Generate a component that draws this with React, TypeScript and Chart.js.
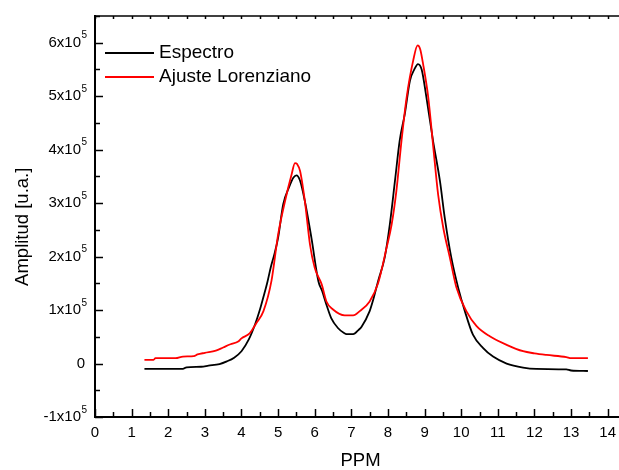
import React, { useEffect, useRef } from "react";
import { Chart, registerables } from "chart.js";

Chart.register(...registerables);

// ---- Data ----
const espectroPPM = [
  1.35, 2.0, 2.4, 2.5, 2.9, 3.1, 3.4, 3.6, 3.8, 4.0, 4.2, 4.37, 4.5, 4.59, 4.7, 4.8, 4.9, 5.0, 5.14, 5.3,
  5.42, 5.5, 5.6, 5.73, 5.91, 6.1, 6.2, 6.32, 6.45, 6.64, 6.8, 6.87, 7.05, 7.2, 7.28, 7.5, 7.6, 7.73, 7.91,
  8.05, 8.19, 8.32, 8.46, 8.6, 8.72, 8.82, 8.92, 9.05, 9.23, 9.42, 9.55, 9.73, 9.92, 10.1, 10.32, 10.6,
  10.87, 11.24, 11.69, 12.05, 12.87, 13.0, 13.46,
];
const espectroAmp = [
  -10000, -10000, -10000, -7000, -6000, -4000, -1000, 4000, 11000, 23000, 45000, 73000, 100000, 122000,
  150000, 180000, 205000, 235000, 298000, 330000, 348000, 352000, 342000, 304000, 235000, 154000, 136000,
  110000, 85000, 66000, 57000, 55000, 55000, 63000, 69000, 98000, 120000, 154000, 198000, 260000, 341000,
  417000, 467000, 529000, 550000, 560000, 550000, 498000, 417000, 341000, 273000, 198000, 141000, 98000,
  54000, 29000, 13000, 0, -7500, -10000, -11000, -13000, -14000,
];

const ajustePPM = [
  1.35, 1.6, 1.65, 2.2, 2.4, 2.7, 2.8, 3.0, 3.3, 3.5, 3.7, 3.91, 4.0, 4.23, 4.4, 4.6, 4.82, 5.0, 5.19,
  5.37, 5.46, 5.52, 5.6, 5.73, 5.87, 6.0, 6.19, 6.32, 6.5, 6.82, 7.05, 7.23, 7.5, 7.73, 7.96, 8.1, 8.23,
  8.37, 8.51, 8.69, 8.81, 8.88, 8.96, 9.1, 9.23, 9.37, 9.51, 9.69, 9.87, 10.14, 10.42, 10.78, 11.24,
  11.69, 12.0, 12.33, 12.87, 13.0, 13.46,
];
const ajusteAmp = [
  7000, 7000, 10000, 10000, 13000, 14000, 17000, 20000, 24000, 30000, 36000, 41000, 47000, 57000, 75000,
  98000, 155000, 241000, 304000, 354000, 375000, 373000, 360000, 304000, 223000, 179000, 148000, 116000,
  101000, 90000, 90000, 98000, 116000, 150000, 216000, 260000, 323000, 417000, 498000, 567000, 595000,
  588000, 560000, 498000, 410000, 316000, 254000, 198000, 142000, 98000, 70000, 51000, 35000, 23000,
  19000, 16000, 12000, 10000, 10000,
];

const seriesLabels = ["Espectro", "Ajuste Lorenziano"];
const seriesColors = ["#000000", "#ff0000"];

const xTickValues = [0, 1, 2, 3, 4, 5, 6, 7, 8, 9, 10, 11, 12, 13, 14];
const yTickValues = [-100000, 0, 100000, 200000, 300000, 400000, 500000, 600000];
const yTickExponent = "5";

const xTitle = "PPM";
const yTitle = "Amplitud [u.a.]";

const FONT = "'Liberation Sans', Arial, Helvetica, sans-serif";

const originAxes = {
  id: "originAxes",
  afterDraw(chart: any) {
    const { ctx, chartArea, scales } = chart;
    const { left, right, top, bottom } = chartArea;
    const xs = scales.x;
    const ys = scales.y;
    ctx.save();
    ctx.strokeStyle = "#000";
    // top frame line
    ctx.lineWidth = 1.5;
    ctx.beginPath();
    ctx.moveTo(left, top);
    ctx.lineTo(right + 20, top);
    ctx.stroke();

    // x ticks (bottom inward + top inward)
    ctx.lineWidth = 1.5;
    const xStep = xTickValues[1] - xTickValues[0];
    for (let i = 0; i < xTickValues.length; i++) {
      const vals = [xTickValues[i], xTickValues[i] + xStep / 2];
      vals.forEach((v, k) => {
        const px = Math.round(xs.getPixelForValue(v)) + 0.5;
        if (px > right + 20) return;
        const len = k === 0 ? 8 : 5;
        ctx.beginPath();
        ctx.moveTo(px, bottom);
        ctx.lineTo(px, bottom - len);
        ctx.stroke();
        ctx.beginPath();
        ctx.moveTo(px, top);
        ctx.lineTo(px, top + 3);
        ctx.stroke();
      });
    }
    // y ticks (left inward)
    const yStep = yTickValues[1] - yTickValues[0];
    for (let i = 0; i < yTickValues.length; i++) {
      const vals = [yTickValues[i], yTickValues[i] + yStep / 2];
      vals.forEach((v, k) => {
        const py = Math.round(ys.getPixelForValue(v)) + 0.5;
        if (py < top) return;
        const len = k === 0 ? 8 : 5;
        ctx.beginPath();
        ctx.moveTo(left, py);
        ctx.lineTo(left + len, py);
        ctx.stroke();
      });
    }

    // y tick labels with superscript exponent
    ctx.fillStyle = "#000";
    ctx.textBaseline = "middle";
    yTickValues.forEach((v) => {
      const py = ys.getPixelForValue(v);
      if (v === 0) {
        ctx.font = `15px ${FONT}`;
        ctx.textAlign = "right";
        ctx.fillText("0", 85, py);
      } else {
        const mant = v / 100000;
        ctx.font = `15px ${FONT}`;
        ctx.textAlign = "right";
        ctx.fillText(`${mant}x10`, 81, py);
        ctx.font = `10px ${FONT}`;
        ctx.textAlign = "left";
        ctx.fillText(yTickExponent, 81.5, py - 7);
      }
    });

    // legend (inside plot, top-left)
    const legendRows = [53, 77];
    ctx.lineWidth = 1.8;
    seriesLabels.forEach((lab, i) => {
      const y = legendRows[i];
      ctx.strokeStyle = seriesColors[i];
      ctx.beginPath();
      ctx.moveTo(105, y);
      ctx.lineTo(154, y);
      ctx.stroke();
      ctx.fillStyle = "#000";
      ctx.font = `19px ${FONT}`;
      ctx.textAlign = "left";
      ctx.textBaseline = "middle";
      ctx.fillText(lab, 159, y);
    });
    ctx.restore();
  },
};

export default function App() {
  const canvasRef = useRef<HTMLCanvasElement | null>(null);

  useEffect(() => {
    const canvas = canvasRef.current;
    if (!canvas) return;
    const chart = new Chart(canvas, {
      type: "line",
      data: {
        datasets: [
          {
            label: seriesLabels[0],
            data: espectroPPM.map((x, i) => ({ x, y: espectroAmp[i] })),
            borderColor: seriesColors[0],
            borderWidth: 1.8,
            pointRadius: 0,
            cubicInterpolationMode: "monotone",
            fill: false,
            order: 1,
          },
          {
            label: seriesLabels[1],
            data: ajustePPM.map((x, i) => ({ x, y: ajusteAmp[i] })),
            borderColor: seriesColors[1],
            borderWidth: 1.8,
            pointRadius: 0,
            cubicInterpolationMode: "monotone",
            fill: false,
            order: 0,
          },
        ],
      },
      options: {
        responsive: false,
        animation: false,
        devicePixelRatio: 1,
        layout: { padding: { left: 0, top: 16, right: 14, bottom: 0 } },
        plugins: {
          legend: { display: false },
          tooltip: { enabled: false },
        },
        scales: {
          x: {
            type: "linear",
            min: 0,
            max: 14.5,
            afterFit: (s: any) => {
              s.height = 53;
            },
            grid: { display: false, drawTicks: false },
            border: { display: true, color: "#000", width: 2 },
            ticks: {
              stepSize: 1,
              includeBounds: false,
              autoSkip: false,
              maxRotation: 0,
              padding: 7,
              color: "#000",
              font: { family: FONT, size: 15 },
            },
            title: {
              display: true,
              text: xTitle,
              color: "#000",
              font: { family: FONT, size: 18.5, lineHeight: 1 },
              padding: { top: 0, bottom: 0 },
            },
          },
          y: {
            type: "linear",
            min: -100000,
            max: 650000,
            afterFit: (s: any) => {
              s.width = 95;
            },
            grid: { display: false, drawTicks: false },
            border: { display: true, color: "#000", width: 2 },
            ticks: { display: false, stepSize: 100000, includeBounds: false },
            title: {
              display: true,
              text: yTitle + "    ",
              color: "#000",
              font: { family: FONT, size: 18.5, lineHeight: 1.2 },
              padding: { top: 12, bottom: 0 },
            },
          },
        },
      },
      plugins: [originAxes],
    });
    return () => chart.destroy();
  }, []);

  return (
    <div
      style={{
        position: "fixed",
        left: 0,
        top: 0,
        width: 619,
        height: 470,
        overflow: "hidden",
        background: "#fff",
      }}
    >
      <canvas
        ref={canvasRef}
        width={640}
        height={470}
        style={{ display: "block", width: 640, height: 470 }}
      />
    </div>
  );
}
